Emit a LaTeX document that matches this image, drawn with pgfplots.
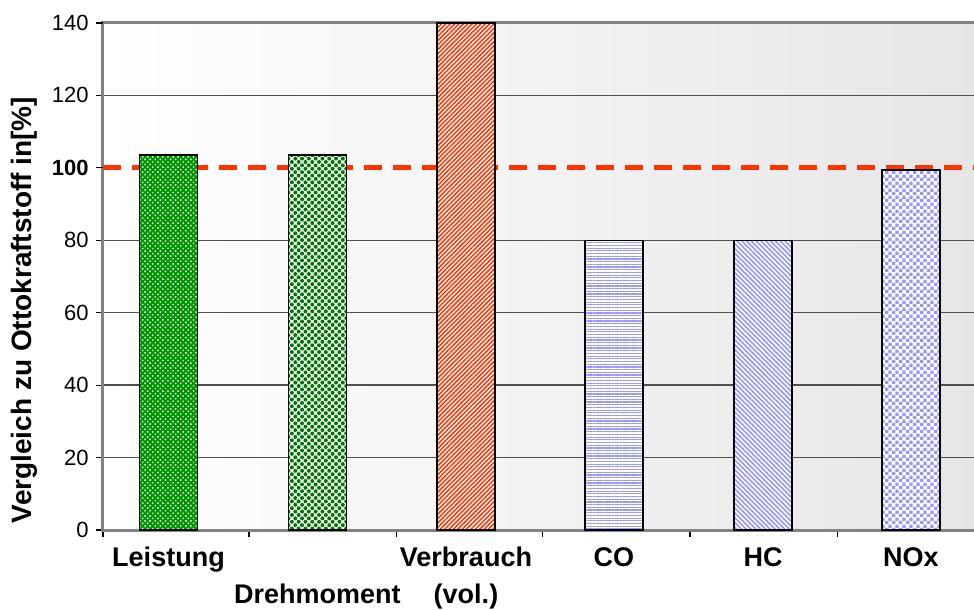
\documentclass[border=0pt]{standalone}
\usepackage{pgfplots}
\pgfplotsset{compat=1.18}
\usepackage{fontspec}
\setmainfont{Liberation Sans}
\usetikzlibrary{patterns,patterns.meta}
\definecolor{dashred}{RGB}{255,51,0}
\definecolor{stripered}{RGB}{255,51,0}
\definecolor{patblue}{RGB}{150,150,255}
\definecolor{dgreen}{RGB}{0,120,0}
\definecolor{lgreen}{RGB}{0,150,0}
\definecolor{framegray}{RGB}{130,130,130}
\definecolor{gridgray}{RGB}{80,80,80}
\definecolor{bgright}{RGB}{230,230,230}
\tikzdeclarepattern{
  name=smallcheck,
  type=uncolored,
  bounding box={(0,0) and (3.6pt,3.6pt)},
  tile size={(3.6pt,3.6pt)},
  code={
    \pgfpathrectangle{\pgfpointorigin}{\pgfqpoint{1.8pt}{1.8pt}}
    \pgfpathrectangle{\pgfqpoint{1.8pt}{1.8pt}}{\pgfqpoint{1.8pt}{1.8pt}}
    \pgfusepath{fill}
  }
}
\begin{document}
\begin{tikzpicture}
\begin{axis}[
  scale only axis, width=438.5pt, height=253.5pt,
  xmin=0, xmax=5.946, ymin=0, ymax=140,
  axis background/.style={left color=white, right color=bgright},
  axis line style={framegray, line width=1.5pt},
  tick pos=left,
  tick align=outside, major tick length=3.5pt,
  tick style={black, line width=0.6pt},
  ytick={0,20,40,60,80,120},
  yticklabels={0,20,40,60,80,120},
  extra y ticks={100,140},
  extra y tick labels={\textbf{100},140},
  extra y tick style={grid=none},
  ymajorgrids, grid style={gridgray, line width=0.7pt},
  yticklabel style={font=\fontsize{11}{13}\selectfont, inner sep=0pt, xshift=-3.5pt},
  xtick={0,0.99,1.99,2.98,3.98,4.98},
  xticklabels={},
  extra x ticks={0.444,1.454,2.461,3.464,4.475,5.478},
  extra x tick labels={{\strut Leistung},{\strut\\Drehmoment},{\strut Verbrauch\\(vol.)},{\strut CO},{\strut HC},{\strut NOx}},
  extra x tick style={major tick length=0pt, xticklabel style={font=\bfseries\fontsize{13.5}{18.5}\selectfont, align=center, anchor=north, inner sep=0pt, yshift=-5pt}},
  ylabel={Vergleich zu Ottokraftstoff in[\%]},
  ylabel style={font=\bfseries\fontsize{14}{16}\selectfont, at={(axis description cs:-0.0901,0.434)}, anchor=center},
]
\addplot[dashred, line width=2.5pt, dash pattern=on 9pt off 5.5pt] coordinates {(0,100) (5.946,100)};
\addplot[ybar, bar width=29pt, bar shift=0pt, draw=black, line width=0.7pt, fill=lgreen,
  postaction={pattern={Dots[radius=0.5pt, distance=1.8pt, angle=45]}, pattern color=white}]
  coordinates {(0.444,103.6)};
\addplot[ybar, bar width=29pt, bar shift=0pt, draw=black, line width=0.7pt, fill=white,
  postaction={pattern={Dots[radius=1pt, distance=2.4pt, angle=45]}, pattern color=dgreen}]
  coordinates {(1.454,103.6)};
\addplot[ybar, bar width=29pt, bar shift=0pt, draw=black, line width=0.7pt, fill=white,
  postaction={pattern={Lines[angle=45, distance=1.55pt, line width=0.75pt]}, pattern color=stripered}]
  coordinates {(2.461,140)};
\addplot[ybar, bar width=29pt, bar shift=0pt, draw=black, line width=0.7pt, fill=white,
  postaction={pattern={Lines[angle=0, distance=1.35pt, line width=0.6pt]}, pattern color=patblue}]
  coordinates {(3.464,80)};
\addplot[ybar, bar width=29pt, bar shift=0pt, draw=black, line width=0.7pt, fill=white,
  postaction={pattern={Lines[angle=-45, distance=1.7pt, line width=0.8pt]}, pattern color=patblue}]
  coordinates {(4.475,80)};
\addplot[ybar, bar width=29pt, bar shift=0pt, draw=black, line width=0.7pt, fill=white,
  postaction={pattern=smallcheck, pattern color=patblue}]
  coordinates {(5.478,99.4)};
\end{axis}
\pgfresetboundingbox
\path (-51.5pt,-40pt) rectangle (435.5pt,265pt);
\end{tikzpicture}
\end{document}
